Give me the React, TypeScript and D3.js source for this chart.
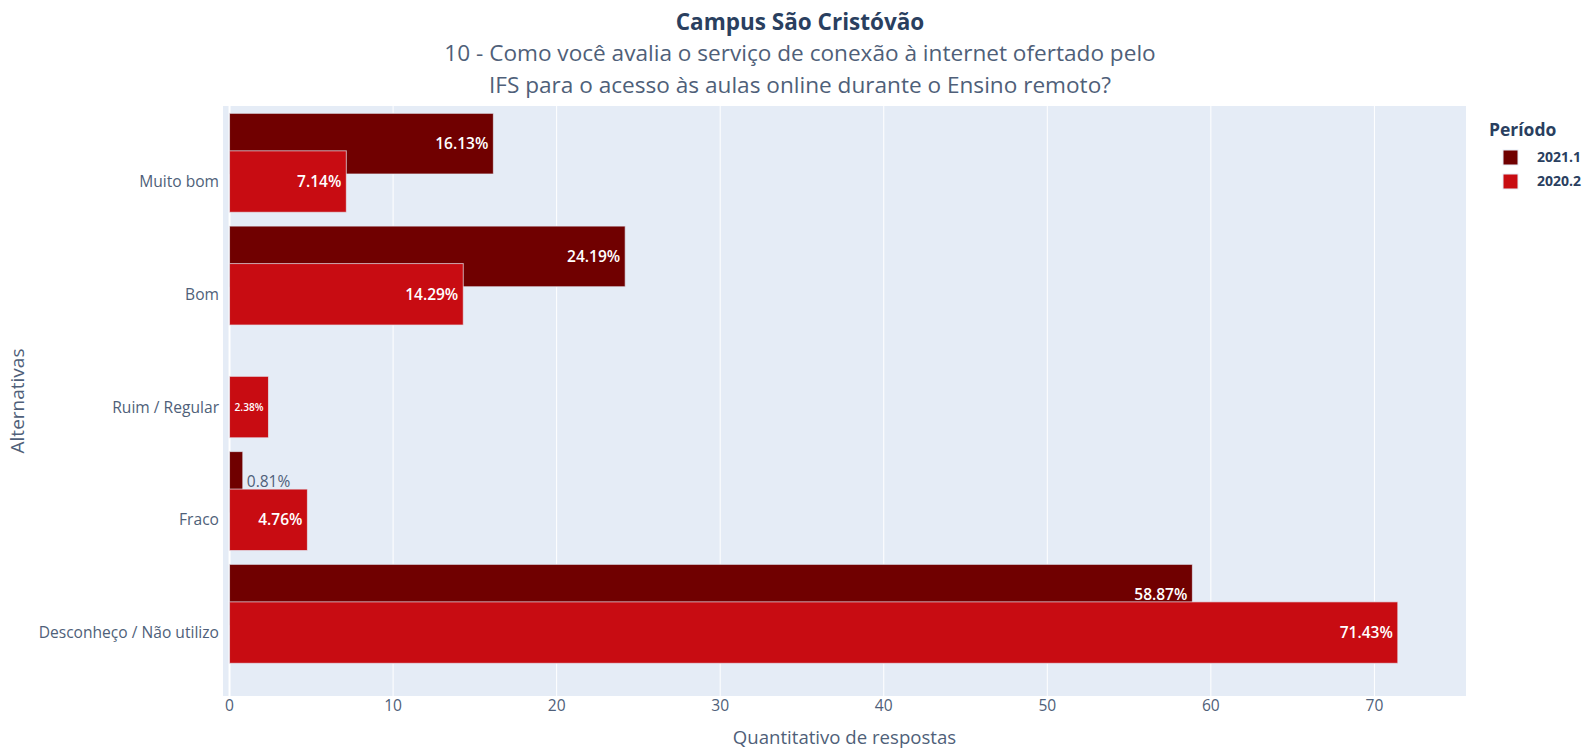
import React from "react";
import * as d3 from "d3";

const categories = ["Muito bom", "Bom", "Ruim / Regular", "Fraco", "Desconheço / Não utilizo"];
const seriesNames = ["2021.1", "2020.2"];
const values2021 = [16.13, 24.19, null, 0.81, 58.87];
const values2020 = [7.14, 14.29, 2.38, 4.76, 71.43];
const xTickValues = [0, 10, 20, 30, 40, 50, 60, 70];
const colors = ["#700000", "#c80c12"];

const W = 1588, H = 750;
const plot = { left: 223, right: 1466, top: 106, bottom: 696 };
const FONT = "'Open Sans', 'Noto Sans', sans-serif";
const TXT = "#2a3f5f";
const TXT2 = "#4f5f79";

let ctx: CanvasRenderingContext2D | null = null;
function textWidth(t: string, size: number, weight = "normal") {
  if (!ctx) ctx = document.createElement("canvas").getContext("2d");
  if (!ctx) return t.length * size * 0.56;
  ctx.font = `${weight} ${size}px 'Open Sans'`;
  return ctx.measureText(t).width;
}

export default function App() {
  const x = d3.scaleLinear().domain([-0.4, 75.6]).range([plot.left, plot.right]);
  const y = d3.scaleLinear().domain([-0.67, 4.5625]).range([plot.top, plot.bottom]);
  const traces = [
    { name: seriesNames[0], values: values2021, color: colors[0], off: [-0.605, -0.067] },
    { name: seriesNames[1], values: values2020, color: colors[1], off: [-0.2725, 0.2725] },
  ];
  const barFont = 15.5;
  return (
    <div style={{ position: "absolute", left: 0, top: 0 }}>
      <svg width={W} height={H} style={{ display: "block", fontFamily: FONT }}>
        <rect x={0} y={0} width={W} height={H} fill="#fff" />
        <rect x={plot.left} y={plot.top} width={plot.right - plot.left} height={plot.bottom - plot.top} fill="#E5ECF6" />
        {xTickValues.map((t) => (
          <line key={t} x1={x(t)} x2={x(t)} y1={plot.top} y2={plot.bottom} stroke="#fff" strokeWidth={t === 0 ? 2 : 1} />
        ))}
        {traces.map((tr) => (
          <g key={tr.name}>
            {tr.values.map((v, i) => {
              if (v == null) return null;
              const y0 = y(i + tr.off[0]);
              const y1 = y(i + tr.off[1]);
              const xb = x(0);
              const xe = x(v);
              const bw = xe - xb;
              const label = v.toFixed(2) + "%";
              const tw = textWidth(label, barFont, "600");
              const cy = (y0 + y1) / 2;
              let textEl;
              if (bw < 20) {
                textEl = (
                  <text x={xe + 4} y={cy} dy="0.35em" fontSize={barFont} fill={TXT2} textAnchor="start">{label}</text>
                );
              } else {
                const scale = Math.min(1, (bw - 10) / tw);
                const fs = barFont * scale;
                textEl = (
                  <text x={xe - 5} y={cy} dy="0.35em" fontSize={fs} fill="#fff" textAnchor="end" fontWeight={600}>{label}</text>
                );
              }
              return (
                <g key={i}>
                  <rect x={xb} y={y0} width={bw} height={y1 - y0} fill={tr.color} stroke="#E5ECF6" strokeWidth={1} strokeOpacity={0.7} />
                  {textEl}
                </g>
              );
            })}
          </g>
        ))}
        {categories.map((c, i) => (
          <text key={c} x={219} y={y(i)} dy="0.35em" textAnchor="end" fontSize={15.6} fill={TXT2}>{c}</text>
        ))}
        {xTickValues.map((t) => (
          <text key={t} x={x(t)} y={706} dy="0.35em" textAnchor="middle" fontSize={15.6} fill={TXT2}>{t}</text>
        ))}
        <text x={(plot.left + plot.right) / 2} y={737} dy="0.35em" textAnchor="middle" fontSize={18.6} fill={TXT2}>Quantitativo de respostas</text>
        <text transform={`translate(17,${(plot.top + plot.bottom) / 2}) rotate(-90)`} dy="0.35em" textAnchor="middle" fontSize={19} fill={TXT2}>Alternativas</text>
        <text x={800} y={22} dy="0.35em" textAnchor="middle" fontSize={22.5} fontWeight="bold" fill={TXT}>Campus São Cristóvão</text>
        <text x={800} y={53} dy="0.35em" textAnchor="middle" fontSize={22.6} fill={TXT2}>10 - Como você avalia o serviço de conexão à internet ofertado pelo</text>
        <text x={800} y={85} dy="0.35em" textAnchor="middle" fontSize={22.6} fill={TXT2}>IFS para o acesso às aulas online durante o Ensino remoto?</text>
        <text x={1489} y={130} dy="0.35em" fontSize={17.5} fontWeight="bold" fill={TXT}>Período</text>
        {traces.map((tr, ti) => (
          <g key={tr.name}>
            <rect x={1503} y={150 + ti * 24} width={15} height={15} fill={tr.color} stroke="#E5ECF6" strokeWidth={1} />
            <text x={1537} y={157.5 + ti * 24} dy="0.35em" fontSize={14} fontWeight="bold" fill={TXT}>{tr.name}</text>
          </g>
        ))}
      </svg>
    </div>
  );
}
